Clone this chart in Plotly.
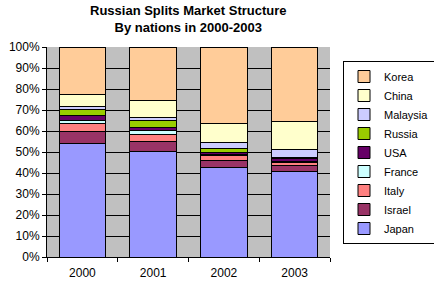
import plotly.graph_objects as go

years = ["2000", "2001", "2002", "2003"]
series_names = ["Japan", "Israel", "Italy", "France", "USA", "Russia", "Malaysia", "China", "Korea"]
japan = [54.1, 50.3, 42.7, 40.8]
israel = [5.6, 4.8, 3.3, 2.9]
italy = [4.0, 3.3, 2.4, 1.4]
france = [1.4, 1.9, 0.6, 0.6]
usa = [2.4, 1.5, 1.0, 1.0]
russia = [2.8, 3.3, 1.7, 0.9]
malaysia = [1.4, 1.4, 2.9, 3.4]
china = [5.8, 8.1, 9.2, 13.3]
korea = [22.5, 25.4, 36.2, 35.7]
values = [japan, israel, italy, france, usa, russia, malaysia, china, korea]
colors = ["#9999FF", "#993366", "#FF8080", "#CCFFFF", "#660066", "#99CC00", "#CCCCFF", "#FFFFCC", "#FFCC99"]
ytick_vals = [0, 10, 20, 30, 40, 50, 60, 70, 80, 90, 100]
ytick_text = [f"{v}%" for v in ytick_vals]

FONT = "Liberation Sans, Arial, sans-serif"
xpos = list(range(len(years)))
fig = go.Figure()
for name, vals, col in zip(series_names, values, colors):
    fig.add_trace(go.Bar(
        x=xpos, y=vals, name=name,
        marker=dict(color=col, line=dict(color="black", width=1)),
        width=0.66,
    ))

fig.update_layout(
    barmode="stack",
    width=434, height=285,
    margin=dict(l=47, r=104, t=47, b=28, autoexpand=False),
    paper_bgcolor="white",
    plot_bgcolor="#C0C0C0",
    font=dict(family=FONT, size=11, color="black"),
    legend=dict(
        traceorder="reversed",
        x=(343 - 47) / 283, xanchor="left", y=(257 - 61) / 210, yanchor="top",
        bordercolor="black", borderwidth=1, bgcolor="white",
        font=dict(size=11),
        itemwidth=30,
        tracegroupgap=0,
    ),
    bargap=0.34,
    annotations=[dict(
        text="<b>Russian Splits Market Structure<br>By nations in 2000-2003</b>",
        xref="paper", yref="paper", x=0.5, y=1, xanchor="center", yanchor="bottom",
        yshift=10, showarrow=False, font=dict(size=13, family=FONT),
    )],
)
fig.update_xaxes(
    range=[-0.5, 3.5],
    tickvals=xpos, ticktext=years,
    ticks="", showgrid=False, zeroline=False,
    showline=True, linecolor="black", linewidth=1,
    tickfont=dict(size=12),
    ticklabelstandoff=5,
    minor=dict(tick0=0.5, dtick=1, ticks="outside", ticklen=4, tickcolor="black", showgrid=False),
)
fig.update_yaxes(
    range=[0, 100],
    tickvals=ytick_vals, ticktext=ytick_text,
    ticks="outside", ticklen=4, tickcolor="black",
    showgrid=True, gridcolor="black", gridwidth=1,
    zeroline=False,
    showline=True, linecolor="black", linewidth=1,
    tickfont=dict(size=12),
)

fig.write_html("out.html")
